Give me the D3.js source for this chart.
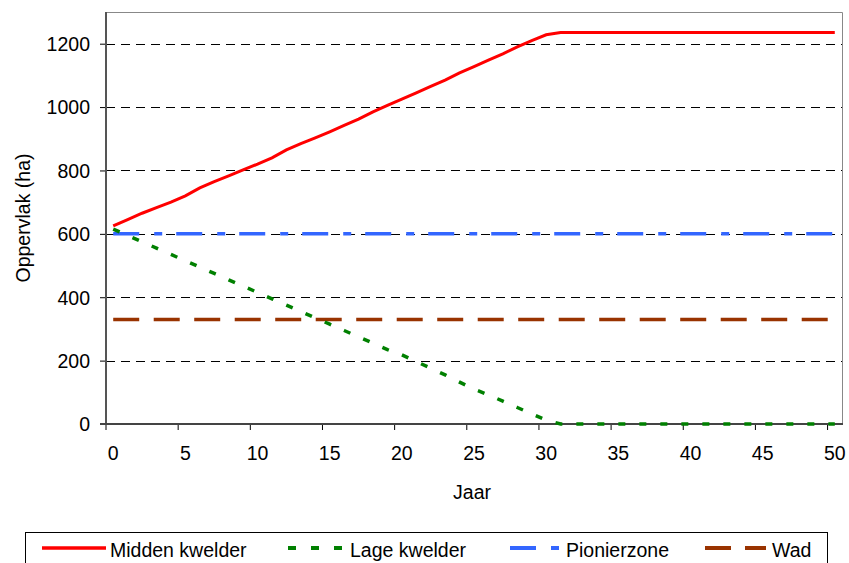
<!DOCTYPE html>
<html>
<head>
<meta charset="utf-8">
<script src="https://cdn.jsdelivr.net/npm/d3@7"></script>
<style>
  body { margin: 0; background: #fff; }
  text { font-family: "Liberation Sans", Arial, sans-serif; fill: #000; }
</style>
</head>
<body>
<svg id="chart" width="849" height="563"></svg>
<script>
const years = d3.range(0, 51);
const middenKwelder = [625,645,665,683,700,720,745,765,783,802,820,840,865,885,903,922,942,962,985,1005,1025,1045,1065,1085,1108,1128,1148,1168,1190,1210,1228,1235,1235,1235,1235,1235,1235,1235,1235,1235,1235,1235,1235,1235,1235,1235,1235,1235,1235,1235,1235];
const lageKwelder = [615,595,575,555,535,515,495,475,455,435,415,395,375,355,335,315,295,275,255,235,218,197,176,155,132,110,92,72,52,32,12,0,0,0,0,0,0,0,0,0,0,0,0,0,0,0,0,0,0,0,0];
const pionierzone = years.map(() => 600);
const wad = years.map(() => 330);
const xTicks = [0,5,10,15,20,25,30,35,40,45,50];
const yTicks = [0,200,400,600,800,1000,1200];
const seriesNames = ["Midden kwelder","Lage kwelder","Pionierzone","Wad"];

const svg = d3.select("#chart");
const pLeft = 106, pRight = 842, pTop = 12, pBottom = 424;
const fs = 19.5;
const x = d3.scaleBand().domain(years).range([pLeft, pRight]).padding(0);
const bw = x.bandwidth();
const cx = d => x(d) + bw / 2;
const y = d3.scaleLinear().domain([0, 1300]).range([pBottom, pTop]);

// gridlines
svg.append("g").selectAll("line").data(yTicks.filter(d => d > 0)).join("line")
  .attr("x1", pLeft).attr("x2", pRight)
  .attr("y1", d => Math.round(y(d)) + 0.5).attr("y2", d => Math.round(y(d)) + 0.5)
  .attr("stroke", "#000").attr("stroke-width", 1).attr("stroke-dasharray", "9,6");

// plot border top/right
svg.append("path")
  .attr("d", `M${pLeft},${pTop+0.5}H${pRight+0.5}V${pBottom}`)
  .attr("fill", "none").attr("stroke", "#888").attr("stroke-width", 1);

// axes
const yAxis = svg.append("g").attr("transform", `translate(${pLeft},0)`)
  .call(d3.axisLeft(y).tickValues(yTicks).tickFormat(d3.format("d")).tickSize(6).tickPadding(10));
const xAxis = svg.append("g").attr("transform", `translate(0,${pBottom})`)
  .call(d3.axisBottom(x).tickValues(xTicks).tickFormat(d3.format("d")).tickSize(6).tickPadding(16));
xAxis.selectAll(".tick line").attr("x1", -bw / 2).attr("x2", -bw / 2);
[yAxis, xAxis].forEach(a => {
  a.select(".domain").remove();
  a.selectAll("line").attr("stroke", "#000");
  a.selectAll("text").attr("font-size", fs).attr("font-family", "Liberation Sans, Arial, sans-serif");
});
yAxis.selectAll("text").attr("dy", "0.35em");
svg.append("line").attr("x1", pLeft).attr("x2", pLeft).attr("y1", pTop).attr("y2", pBottom)
  .attr("stroke", "#555").attr("stroke-width", 2);
svg.append("line").attr("x1", pLeft - 6).attr("x2", pRight + 1).attr("y1", pBottom).attr("y2", pBottom)
  .attr("stroke", "#444").attr("stroke-width", 2);

// lines
const line = d3.line().x((d, i) => cx(years[i])).y(d => y(d));
const styles = [
  { data: middenKwelder, color: "#FF0000", dash: null, width: 3 },
  { data: lageKwelder, color: "#008000", dash: "7,14", width: 3.5 },
  { data: pionierzone, color: "#3366FF", dash: "26,15,8,14", width: 3.5 },
  { data: wad, color: "#993300", dash: "26,14.5", width: 3.5 }
];
[styles[3], styles[2], styles[1], styles[0]].forEach(s => {
  svg.append("path").datum(s.data).attr("d", line)
    .attr("fill", "none").attr("stroke", s.color).attr("stroke-width", s.width)
    .attr("stroke-dasharray", s.dash);
});

// titles
svg.append("text").attr("x", 472).attr("y", 499).attr("text-anchor", "middle")
  .attr("font-size", fs).text("Jaar");
svg.append("text").attr("transform", "translate(30,218) rotate(-90)")
  .attr("text-anchor", "middle").attr("font-size", fs).text("Oppervlak (ha)");

// legend
svg.append("rect").attr("x", 25.5).attr("y", 532.5).attr("width", 802).attr("height", 60)
  .attr("fill", "#fff").attr("stroke", "#000").attr("stroke-width", 1);
const legendItems = [
  { x1: 42, x2: 106, tx: 110, dash: null },
  { x1: 288, x2: 342, tx: 350, dash: "8,15" },
  { x1: 510, x2: 565, tx: 566, dash: "26,15,8,14" },
  { x1: 705, x2: 766, tx: 772, dash: "26,14" }
];
legendItems.forEach((it, i) => {
  svg.append("line").attr("x1", it.x1).attr("x2", it.x2).attr("y1", 548).attr("y2", 548)
    .attr("stroke", styles[i].color).attr("stroke-width", i === 0 ? 3.5 : 4)
    .attr("stroke-dasharray", it.dash);
  svg.append("text").attr("x", it.tx).attr("y", 557).attr("font-size", fs).text(seriesNames[i]);
});
</script>
</body>
</html>
